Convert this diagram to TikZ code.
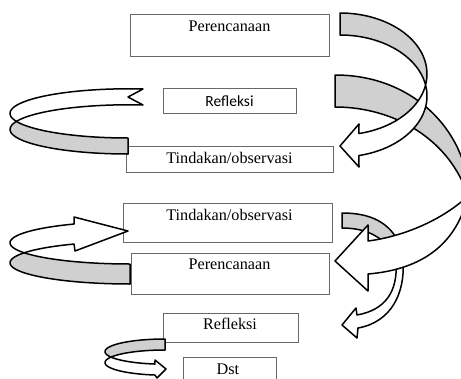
\documentclass[tikz,border=0pt]{standalone}
\usepackage{fontspec}
\setmainfont{Liberation Serif}
\newfontfamily\tnrfont{Liberation Serif}
\newfontfamily\calfont{Carlito}
\definecolor{bandgray}{RGB}{208,208,208}
\definecolor{boxline}{RGB}{105,105,105}
\begin{document}
\begin{tikzpicture}[x=1pt,y=-1pt,
  box/.style={draw=boxline, line width=0.8pt, fill=white, inner sep=0pt},
  lbl/.style={anchor=base, inner sep=0pt, font=\tnrfont\fontsize{16.2}{18}\selectfont},
  backband/.style={draw=black, line width=1.5pt, line join=round, fill=bandgray},
  frontband/.style={draw=black, line width=1.5pt, line join=round, fill=white}]
\useasboundingbox (0,0) rectangle (461,378);
\clip (0,0) rectangle (461,378);
% boxes
\node[box, minimum width=199pt, minimum height=42pt] (b1) at (229.5,35) {};
\node[box, minimum width=133pt, minimum height=25pt] (b2) at (229.5,100.5) {};
\node[box, minimum width=207pt, minimum height=26pt] (b3) at (229.5,159) {};
\node[box, minimum width=209pt, minimum height=39pt] (b4) at (227.5,222.5) {};
\node[box, minimum width=198pt, minimum height=41pt] (b5) at (230,273.5) {};
\node[box, minimum width=135pt, minimum height=29pt] (b6) at (230.5,327.5) {};
\node[box, minimum width=93pt, minimum height=43pt] (b7) at (229.5,378.5) {};
% labels
\node[lbl] (t1) at (229.5,31.5) {Perencanaan};
\node[lbl, font=\calfont\fontsize{15.5}{18}\selectfont] (t2) at (229.5,106) {Refleksi};
\node[lbl] (t3) at (229.5,163.5) {Tindakan/observasi};
\node[lbl] (t4) at (229.5,220) {Tindakan/observasi};
\node[lbl] (t5) at (229.5,269) {Perencanaan};
\node[lbl] (t6) at (230,329) {Refleksi};
\node[lbl] (t7) at (228,374) {Dst};
% arrow C (lowest right)
\path[backband] (342,213) .. controls (370,213) and (390,222) .. (400,245)
  -- (392,252) .. controls (382,236) and (365,228) .. (342,228) -- cycle;
\path[frontband] (396,262) .. controls (398,292) and (385,310) .. (357,315)
  -- (356,308) -- (342,325) -- (357,338) -- (358,328)
  .. controls (392,322) and (405,292) .. (403,262) -- cycle;
% arrow B (big right)
\path[backband] (335,75) -- (335,107) .. controls (395,107) and (450,140) .. (468,196)
  .. controls (470,140) and (420,75) .. (335,75) -- cycle;
\path[frontband] (468,196) .. controls (440,222) and (400,237) .. (368,241)
  -- (368,225) -- (335,261) -- (368,291) -- (368,274)
  .. controls (415,270) and (455,250) .. (468,196) -- cycle;
% arrow A (top right)
\path[backband] plot[domain=-90:10.39, samples=40, variable=\t] ({340+87*cos(\t)},{74+61*sin(\t)})
  -- plot[domain=-10.39:-90, samples=40, variable=\t] ({340+87*cos(\t)},{96+61*sin(\t)}) -- cycle;
\path[frontband] plot[domain=-10.39:77.4, samples=40, variable=\t] ({340+87*cos(\t)},{96+61*sin(\t)})
  -- (359,167) -- (340,146) -- (359,124)
  -- plot[domain=77.4:10.39, samples=40, variable=\t] ({340+87*cos(\t)},{74+61*sin(\t)}) -- cycle;
% arrow D (top left)
\path[backband] plot[domain=90:161.02, samples=40, variable=\t] ({128+118*cos(\t)},{113.4+24.6*sin(\t)})
  -- plot[domain=198.98:90, samples=40, variable=\t] ({128+118*cos(\t)},{129.4+24.6*sin(\t)}) -- cycle;
\path[frontband] plot[domain=161.02:277.3, samples=40, variable=\t] ({128+118*cos(\t)},{113.4+24.6*sin(\t)})
  -- (128,97)
  -- plot[domain=277.3:198.98, samples=40, variable=\t] ({128+118*cos(\t)},{129.4+24.6*sin(\t)}) -- cycle;
% arrow E (middle left)
\path[backband] plot[domain=90:151.85, samples=40, variable=\t] ({130+120*cos(\t)},{242.8+21.2*sin(\t)})
  -- plot[domain=208.15:90, samples=40, variable=\t] ({130+120*cos(\t)},{262.8+21.2*sin(\t)}) -- cycle;
\path[frontband] plot[domain=151.85:242.2, samples=40, variable=\t] ({130+120*cos(\t)},{242.8+21.2*sin(\t)})
  -- (74,217) -- (128,231) -- (75,251)
  -- plot[domain=242.2:208.15, samples=40, variable=\t] ({130+120*cos(\t)},{262.8+21.2*sin(\t)}) -- cycle;
% arrow F (bottom left)
\path[backband] plot[domain=270:154.12, samples=40, variable=\t] ({165+60*cos(\t)},{351.6+12.6*sin(\t)})
  -- plot[domain=205.88:270, samples=40, variable=\t] ({165+60*cos(\t)},{362.6+12.6*sin(\t)}) -- cycle;
\path[frontband] plot[domain=154.12:99.6, samples=40, variable=\t] ({165+60*cos(\t)},{351.6+12.6*sin(\t)})
  -- (155,360) -- (166,369) -- (157,378)
  -- plot[domain=99.6:205.88, samples=40, variable=\t] ({165+60*cos(\t)},{362.6+12.6*sin(\t)}) -- cycle;
\end{tikzpicture}
\end{document}
